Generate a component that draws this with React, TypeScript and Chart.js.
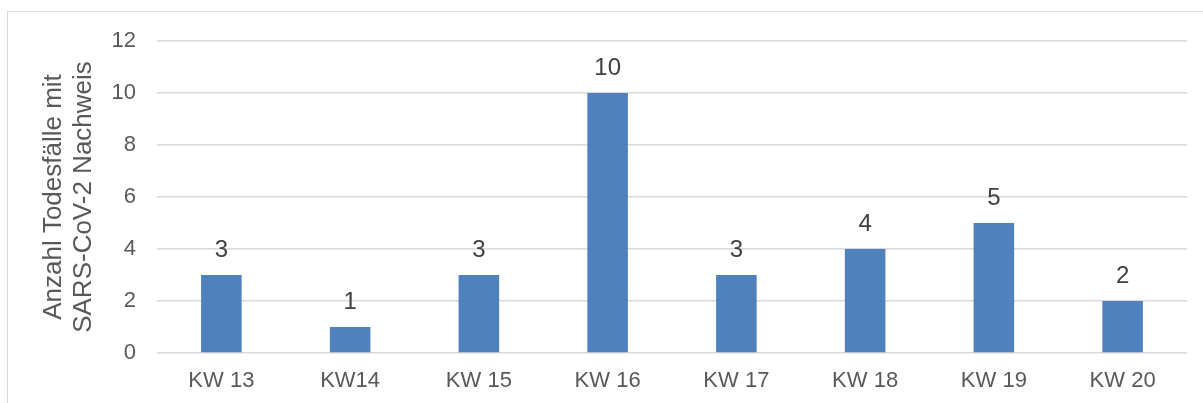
import React, { useEffect, useRef } from "react";
import { Chart, registerables } from "chart.js";

Chart.register(...registerables);

const categories = ["KW 13", "KW14", "KW 15", "KW 16", "KW 17", "KW 18", "KW 19", "KW 20"];
const deaths = [3, 1, 3, 10, 3, 4, 5, 2];
const yTitle = ["Anzahl Todesfälle mit", "SARS-CoV-2 Nachweis"];
const yMin = 0;
const yMax = 12;
const yStep = 2;

const FONT = "'Liberation Sans', Arial, sans-serif";
const TEXT = "#595959";
const GRID = "#d9d9d9";
const BAR = "#4f81bd";

const valueLabels = {
  id: "valueLabels",
  afterDatasetsDraw(chart: any) {
    const ctx = chart.ctx;
    const meta = chart.getDatasetMeta(0);
    ctx.save();
    ctx.font = `24px ${FONT}`;
    ctx.fillStyle = "#404040";
    ctx.textAlign = "center";
    ctx.textBaseline = "middle";
    meta.data.forEach((bar: any, i: number) => {
      ctx.fillText(String(chart.data.datasets[0].data[i]), bar.x, bar.y - 25);
    });
    ctx.restore();
  },
};

export default function App() {
  const ref = useRef<HTMLCanvasElement>(null);
  useEffect(() => {
    if (!ref.current) return;
    const chart = new Chart(ref.current, {
      type: "bar",
      data: {
        labels: categories,
        datasets: [
          {
            data: deaths,
            backgroundColor: BAR,
            borderWidth: 0,
            categoryPercentage: 1,
            barPercentage: 0.315,
          },
        ],
      },
      options: {
        animation: false,
        responsive: false,
        maintainAspectRatio: false,
        layout: { padding: { left: 0, right: 16, top: 41, bottom: 0 } },
        plugins: { legend: { display: false }, tooltip: { enabled: false } },
        scales: {
          x: {
            grid: { display: false, drawTicks: false },
            border: { display: false },
            ticks: { color: TEXT, font: { family: FONT, size: 22 }, padding: 15, maxRotation: 0, autoSkip: false },
            afterFit: (s: any) => {
              s.height = 50;
            },
          },
          y: {
            min: yMin,
            max: yMax,
            grid: { color: GRID, lineWidth: 1.5, drawTicks: false },
            border: { display: false },
            ticks: { stepSize: yStep, color: TEXT, font: { family: FONT, size: 22 }, padding: 21 },
            title: {
              display: true,
              text: yTitle,
              color: TEXT,
              font: { family: FONT, size: 26, lineHeight: 1.15 },
              padding: { top: 39, bottom: 0 },
            },
            afterFit: (s: any) => {
              s.width = 157;
            },
          },
        },
      },
      plugins: [valueLabels],
    });
    return () => chart.destroy();
  }, []);

  return (
    <div style={{ position: "fixed", left: 0, top: 0, width: 1203, height: 403, background: "#fff", overflow: "hidden" }}>
      <div
        style={{
          position: "absolute",
          left: 7,
          top: 11,
          width: 1400,
          height: 600,
          border: `1px solid ${GRID}`,
          boxSizing: "border-box",
        }}
      />
      <canvas ref={ref} width={1203} height={403} style={{ position: "absolute", left: 0, top: 0, width: 1203, height: 403 }} />
    </div>
  );
}
